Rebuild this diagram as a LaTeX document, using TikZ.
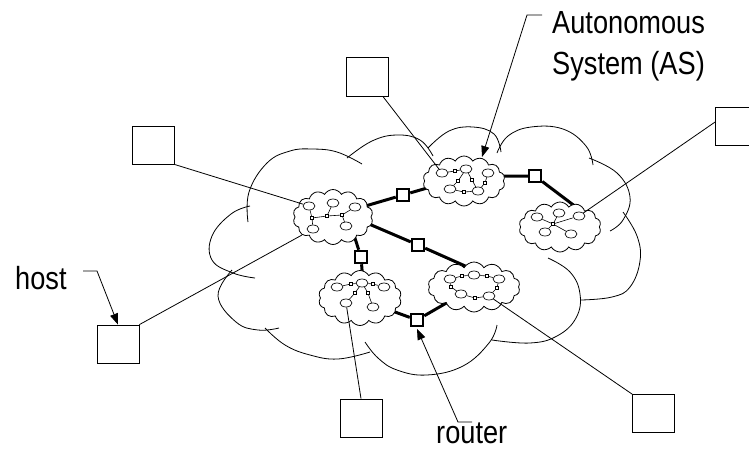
\documentclass[tikz,border=0pt]{standalone}
\usepackage{fontspec}
\setmainfont[FakeStretch=0.85]{Liberation Sans}
\usetikzlibrary{shapes.symbols,shapes.geometric,arrows.meta}
\pgfdeclarelayer{background}
\pgfsetlayers{background,main}
\begin{document}
\begin{tikzpicture}[x=1pt,y=-1pt,
  thinline/.style={line width=0.8pt},
  hostbox/.style={draw,line width=0.8pt,rectangle,minimum width=42pt,minimum height=38pt,inner sep=0pt,fill=white},
  ascloud/.style={draw,line width=0.8pt,cloud,cloud puffs=14,cloud puff arc=120,inner sep=0pt,fill=white},
  lan/.style={draw,ellipse,line width=0.65pt,minimum width=12pt,minimum height=8pt,inner sep=0pt,fill=white},
  rt/.style={draw,rectangle,line width=0.6pt,minimum size=3.5pt,inner sep=0pt,fill=white},
  brouter/.style={draw,rectangle,line width=2.5pt,minimum size=12pt,inner sep=0pt,fill=white},
  trunk/.style={line width=3pt},
  leader/.style={line width=0.8pt,-{Triangle[length=11pt,width=8pt]}},
  lbl/.style={font=\fontsize{32}{40}\selectfont,inner sep=0pt}
]
\useasboundingbox (0,0) rectangle (749,451);

% ---------- big cloud ----------
\begin{pgfonlayer}{background}
\begin{scope}[thinline]
\draw plot[smooth,tension=0.7] coordinates {(250,206) (231,214) (212,236) (212,260) (233,273) (255,278)};
\draw plot[smooth,tension=0.7] coordinates {(248,222) (249,192) (267,163) (290,151) (312,149) (337,152) (362,164)};
\draw plot[smooth,tension=0.7] coordinates {(347,158) (372,141) (397,135) (420,140) (433,156)};
\draw plot[smooth,tension=0.7] coordinates {(428,148) (449,131) (473,127) (494,134) (501,152)};
\draw plot[smooth,tension=0.7] coordinates {(497,153) (508,136) (531,127) (563,129) (586,146) (593,165)};
\draw plot[smooth,tension=0.7] coordinates {(589,158) (617,173) (630,197) (623,220) (610,231)};
\draw plot[smooth,tension=0.7] coordinates {(623,212) (637,236) (640,261) (630,287) (612,297) (581,300)};
\draw plot[smooth,tension=0.7] coordinates {(548,258) (570,272) (580,294) (576,318) (557,336) (530,343) (492,340)};
\draw plot[smooth,tension=0.7] coordinates {(497,325) (489,343) (463,366) (427,375) (397,370) (378,358) (365,342)};
\draw plot[smooth,tension=0.7] coordinates {(265,328) (285,345) (310,355) (338,359) (370,352)};
\draw plot[smooth,tension=0.7] coordinates {(232,270) (218,296) (236,322) (258,330) (279,328)};
\end{scope}
\end{pgfonlayer}

% ---------- autonomous systems ----------
\node[ascloud,minimum width=80pt,minimum height=55pt] (cA) at (333,217) {};
\node[ascloud,minimum width=82pt,minimum height=50pt] (cB) at (464,181) {};
\node[ascloud,minimum width=82pt,minimum height=50pt] (cC) at (560,227) {};
\node[ascloud,minimum width=83pt,minimum height=55pt] (cD) at (360,298) {};
\node[ascloud,minimum width=92pt,minimum height=50pt] (cE) at (474,287) {};

% AS A
\node[lan] (a1) at (309,206) {};
\node[lan] (a2) at (333,203) {};
\node[lan] (a3) at (355,207) {};
\node[lan] (a4) at (313,229) {};
\node[lan] (a5) at (346,226) {};
\node[rt] (ar1) at (312,218) {};
\node[rt] (ar2) at (327,216) {};
\node[rt] (ar3) at (342,215) {};
\draw[line width=0.6pt] (ar1) -- (ar2) -- (ar3) (ar1) -- (a1) (ar1) -- (a4) (ar2) -- (a2) (ar3) -- (a3) (ar3) -- (a5);

% AS B
\node[lan] (b1) at (442,173) {};
\node[lan] (b2) at (466,169) {};
\node[lan] (b3) at (488,173) {};
\node[lan] (b4) at (450,189) {};
\node[lan] (b5) at (478,191) {};
\node[rt] (br1) at (455,171) {};
\node[rt] (br2) at (458,181) {};
\node[rt] (br3) at (472,180) {};
\node[rt] (br4) at (485,183) {};
\node[rt] (br5) at (464,192) {};
\draw[line width=0.6pt] (b1) -- (br1) -- (b2) (b2) -- (br2) -- (b4) (b2) -- (br3) -- (b5) (b3) -- (br4) -- (b5) (b4) -- (br5) -- (b5);

% AS C
\node[lan] (c1) at (537,217) {};
\node[lan] (c2) at (559,213) {};
\node[lan] (c3) at (579,216) {};
\node[lan] (c4) at (545,232) {};
\node[lan] (c5) at (571,234) {};
\node[rt,minimum size=2.5pt] (ch) at (553,224) {};
\draw[line width=0.6pt] (ch) -- (c1) (ch) -- (c2) (ch) -- (c3) (ch) -- (c4) (ch) -- (c5);

% AS D
\node[lan] (d1) at (337,287) {};
\node[lan] (d2) at (362,283) {};
\node[lan] (d3) at (384,287) {};
\node[lan] (d4) at (346,303) {};
\node[lan] (d5) at (373,307) {};
\node[rt] (dr1) at (351,284) {};
\node[rt] (dr2) at (373,284) {};
\node[rt] (dr3) at (355,293) {};
\node[rt] (dr4) at (368,293) {};
\draw[line width=0.6pt] (d1) -- (dr1) -- (d2) -- (dr2) -- (d3) (d2) -- (dr3) -- (d4) (d2) -- (dr4) -- (d5);

% AS E
\node[lan] (e1) at (450,279) {};
\node[lan] (e2) at (474,275) {};
\node[lan] (e3) at (499,279) {};
\node[lan] (e4) at (461,294) {};
\node[lan] (e5) at (489,296) {};
\node[rt] (er1) at (462,276) {};
\node[rt] (er2) at (487,276) {};
\node[rt] (er3) at (451,287) {};
\node[rt] (er4) at (497,288) {};
\node[rt] (er5) at (475,298) {};
\draw[line width=0.6pt] (e1) -- (er1) -- (e2) -- (er2) -- (e3) -- (er4) -- (e5) -- (er5) -- (e4) -- (er3) -- (e1);

% ---------- backbone routers ----------
\node[brouter] (R1) at (403,195) {};
\node[brouter] (R2) at (418,245) {};
\node[brouter] (R3) at (361,257) {};
\node[brouter] (R4) at (417,320) {};
\node[brouter] (R5) at (535,176) {};

\coordinate (pA1) at (362,207);
\coordinate (pB1) at (434,186);
\coordinate (pA2) at (362,221);
\coordinate (pE2) at (472,269);
\coordinate (pA3) at (353,232);
\coordinate (pD3) at (363,282);
\coordinate (pD4) at (384,308);
\coordinate (pE4) at (455,298);
\coordinate (pB5) at (496,176);
\coordinate (pC5) at (580,210);

\begin{pgfonlayer}{background}
\draw[trunk] (pA1) -- (R1) -- (pB1);
\draw[trunk] (pA2) -- (R2) -- (pE2);
\draw[trunk] (pA3) -- (R3) -- (pD3);
\draw[trunk] (pD4) -- (R4) -- (pE4);
\draw[trunk] (pB5) -- (R5) -- (pC5);
\end{pgfonlayer}

% ---------- hosts ----------
\node[hostbox] (hTL) at (153,145) {};
\node[hostbox,minimum height=39pt] (hTC) at (367.5,76.5) {};
\node[hostbox] (hTR) at (736.5,126) {};
\node[hostbox] (hBL) at (118,344) {};
\node[hostbox] (hBC) at (361,418) {};
\node[hostbox] (hBR) at (653.5,413.5) {};

\coordinate (aEdge) at (302,235);
\draw[thinline] (hTL.south east) -- (a1);
\draw[thinline] (hTC) -- (b1);
\draw[thinline] ([yshift=4pt]hTR.west) -- (c3);
\draw[thinline] (hBL.north east) -- (aEdge);
\draw[thinline] (hBC.north) -- (d4);
\draw[thinline] (hBR.north west) -- (e5);

% ---------- labels ----------
\node[lbl,anchor=base west] (tAS1) at (552,33) {Autonomous};
\node[lbl,anchor=base west] (tAS2) at (552,74) {System (AS)};
\node[lbl,anchor=base west] (tHost) at (15,289) {host};
\node[lbl,anchor=base west] (tRouter) at (436,443) {router};

\coordinate (asA) at (542,15);
\coordinate (asB) at (527,15);
\coordinate (asTip) at (482,157);
\draw[leader] (asA) -- (asB) -- (asTip);

\coordinate (hoA) at (83,271);
\coordinate (hoB) at (97,271);
\draw[leader] (hoA) -- (hoB) -- (hBL.north);

\coordinate (roA) at (472,422);
\coordinate (roB) at (458,422);
\draw[leader] (roA) -- (roB) -- ([yshift=-1.5pt]R4.south);
\end{tikzpicture}
\end{document}
